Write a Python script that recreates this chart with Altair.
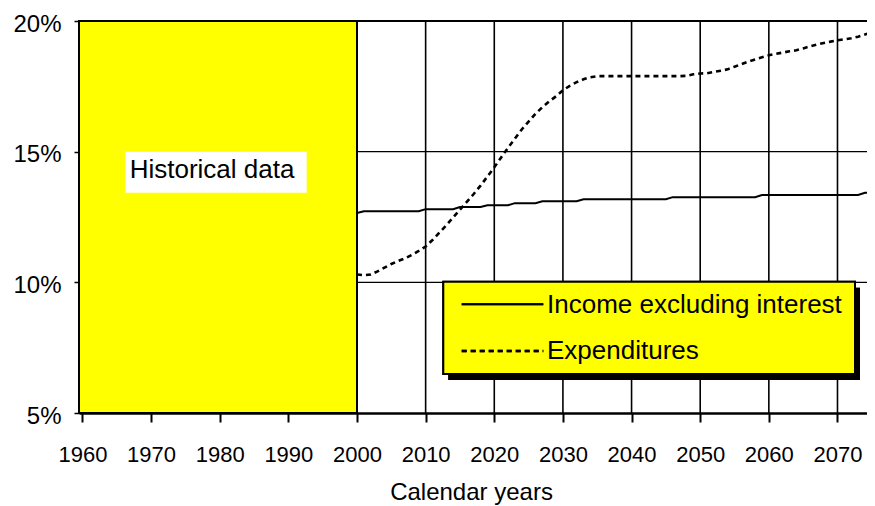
import altair as alt
import pandas as pd

# ---------------- data ----------------
years = list(range(2000, 2077))

income = [
    12.65,
    12.72, 12.72, 12.72, 12.72, 12.72, 12.72, 12.72, 12.72, 12.72,
    12.80, 12.80, 12.80, 12.80, 12.80,
    12.88, 12.88, 12.88, 12.88,
    12.95, 12.95, 12.95, 12.95,
    13.03, 13.03, 13.03, 13.03,
    13.10, 13.10, 13.10, 13.10, 13.10, 13.10,
    13.18, 13.18, 13.18, 13.18, 13.18, 13.18, 13.18, 13.18, 13.18, 13.18, 13.18, 13.18, 13.18,
    13.26, 13.26, 13.26, 13.26, 13.26, 13.26, 13.26, 13.26, 13.26, 13.26, 13.26, 13.26, 13.26,
    13.34, 13.34, 13.34, 13.34, 13.34, 13.34, 13.34, 13.34, 13.34, 13.34, 13.34, 13.34, 13.34, 13.34, 13.34,
    13.43, 13.43, 13.43,
]

expenditures = [
    10.30, 10.27, 10.30, 10.42, 10.56, 10.70, 10.82, 10.92, 11.05, 11.20,
    11.37, 11.62, 11.90, 12.18, 12.48, 12.78, 13.08, 13.38, 13.70, 14.05,
    14.40, 14.78, 15.15, 15.50, 15.85, 16.15, 16.45, 16.70, 16.92, 17.12,
    17.35, 17.52, 17.66, 17.77, 17.85, 17.89, 17.89, 17.89, 17.89, 17.89,
    17.89, 17.89, 17.89, 17.89, 17.89, 17.89, 17.89, 17.89, 17.90, 17.96,
    17.99, 18.00, 18.05, 18.10, 18.15, 18.25, 18.35, 18.45, 18.53, 18.61,
    18.69, 18.74, 18.79, 18.84, 18.88, 18.95, 19.03, 19.10, 19.16, 19.21,
    19.26, 19.30, 19.34, 19.40, 19.48, 19.56, 19.64,
]

tick_years = [1960, 1970, 1980, 1990, 2000, 2010, 2020, 2030, 2040, 2050, 2060, 2070]
pct_ticks = [5, 10, 15, 20]
grid_pct = [10, 15]
top_pct = [20]
x_domain = [1959.5, 2074.3]
y_domain = [5, 20]
hist_start, hist_end = 1959.5, 2000
series_names = ["Income excluding interest", "Expenditures"]
annotation = "Historical data"
x_title = "Calendar years"

# ---------------- style ----------------
FONT = "Liberation Sans"
W, H = 788, 392
YELLOW = "#FFFF00"

xs = alt.Scale(domain=x_domain, nice=False, zero=False)
ys = alt.Scale(domain=y_domain, nice=False, zero=False)

df = pd.DataFrame({"year": years, "income": income, "expend": expenditures})

x_axis = alt.Axis(
    values=tick_years, format="d", grid=False,
    domain=True, domainColor="black", domainWidth=2.5,
    ticks=True, tickColor="black", tickWidth=2, tickSize=9,
    labelFont=FONT, labelFontSize=22, labelColor="black", labelPadding=22,
    labelFlush=False, labelOverlap=False,
    title=x_title, titleFont=FONT, titleFontSize=24, titleFontWeight="normal",
    titleColor="black", titleX=392, titleY=86, titleBaseline="alphabetic",
    zindex=1,
)
y_axis = alt.Axis(
    values=pct_ticks, labelExpr="datum.value + '%'", grid=False,
    domain=False, ticks=True, tickColor="black", tickWidth=1.5, tickSize=5,
    labelFont=FONT, labelFontSize=24, labelColor="black", labelPadding=13,
    labelOffset=3, labelFlush=False, labelOverlap=False, title=None, zindex=1,
)


def X(field):
    return alt.X(field, scale=xs, axis=x_axis)


def Y(field):
    return alt.Y(field, scale=ys, axis=y_axis)


vgrid = alt.Chart(pd.DataFrame({"year": tick_years})).mark_rule(
    color="black", strokeWidth=1.6
).encode(x=X("year:Q"))

hgrid = alt.Chart(pd.DataFrame({"pct": grid_pct})).mark_rule(
    color="black", strokeWidth=1.2
).encode(y=Y("pct:Q"))

hist = alt.Chart(pd.DataFrame({"x0": [hist_start], "x1": [hist_end],
                               "y0": [y_domain[0]], "y1": [y_domain[1]]})).mark_rect(
    fill=YELLOW, stroke="black", strokeWidth=2
).encode(x=X("x0:Q"), x2="x1:Q", y=Y("y0:Q"), y2="y1:Q")

ann_df = pd.DataFrame({"label": [annotation]})
ann_box = alt.Chart(ann_df).mark_rect(fill="white").encode(
    x=alt.value(46.3), x2=alt.value(227.7), y=alt.value(130.7), y2=alt.value(171.7)
)
ann_text = alt.Chart(ann_df).mark_text(
    font=FONT, fontSize=26, align="left", baseline="alphabetic", color="black"
).encode(x=alt.value(50.7), y=alt.value(157.3), text="label:N")

line_income = alt.Chart(df).mark_line(color="black", strokeWidth=2, clip=True).encode(
    x=X("year:Q"), y=Y("income:Q")
)
line_exp = alt.Chart(df).mark_line(
    color="black", strokeWidth=2.6, strokeDash=[5, 4], clip=True
).encode(x=X("year:Q"), y=Y("expend:Q"))

top = alt.Chart(pd.DataFrame({"pct": top_pct})).mark_rule(
    color="black", strokeWidth=2.2
).encode(y=Y("pct:Q"))

# ---------------- legend (drawn by hand, with drop shadow) ----------------
leg_df = pd.DataFrame({"name": series_names})
leg_shadow = alt.Chart(leg_df).mark_rect(fill="black").encode(
    x=alt.value(369.3), x2=alt.value(781), y=alt.value(266.7), y2=alt.value(359)
)
leg_box = alt.Chart(leg_df).mark_rect(fill=YELLOW, stroke="black", strokeWidth=2).encode(
    x=alt.value(364.3), x2=alt.value(776), y=alt.value(260.7), y2=alt.value(353)
)
leg_line1 = alt.Chart(leg_df).mark_rule(color="black", strokeWidth=2).encode(
    x=alt.value(382.7), x2=alt.value(464.3), y=alt.value(283.3)
)
leg_line2 = alt.Chart(leg_df).mark_rule(
    color="black", strokeWidth=2.6, strokeDash=[5, 4]
).encode(x=alt.value(382.7), x2=alt.value(464.3), y=alt.value(330))
leg_text1 = alt.Chart(leg_df).transform_filter(
    alt.datum.name == series_names[0]
).mark_text(font=FONT, fontSize=26, align="left", baseline="alphabetic", color="black").encode(
    x=alt.value(468), y=alt.value(292.3), text="name:N"
)
leg_text2 = alt.Chart(leg_df).transform_filter(
    alt.datum.name == series_names[1]
).mark_text(font=FONT, fontSize=26, align="left", baseline="alphabetic", color="black").encode(
    x=alt.value(468), y=alt.value(338.3), text="name:N"
)

chart = alt.layer(
    vgrid, hgrid, hist, ann_box, ann_text, line_income, line_exp, top,
    leg_shadow, leg_box, leg_line1, leg_line2, leg_text1, leg_text2,
).properties(
    width=W, height=H,
    padding={"left": 71, "top": 13, "right": 0, "bottom": 93},
    autosize=alt.AutoSizeParams(type="none"),
    background="white",
).configure_view(stroke=None)

chart.save("out.html", embed_options={"renderer": "svg", "actions": False})
